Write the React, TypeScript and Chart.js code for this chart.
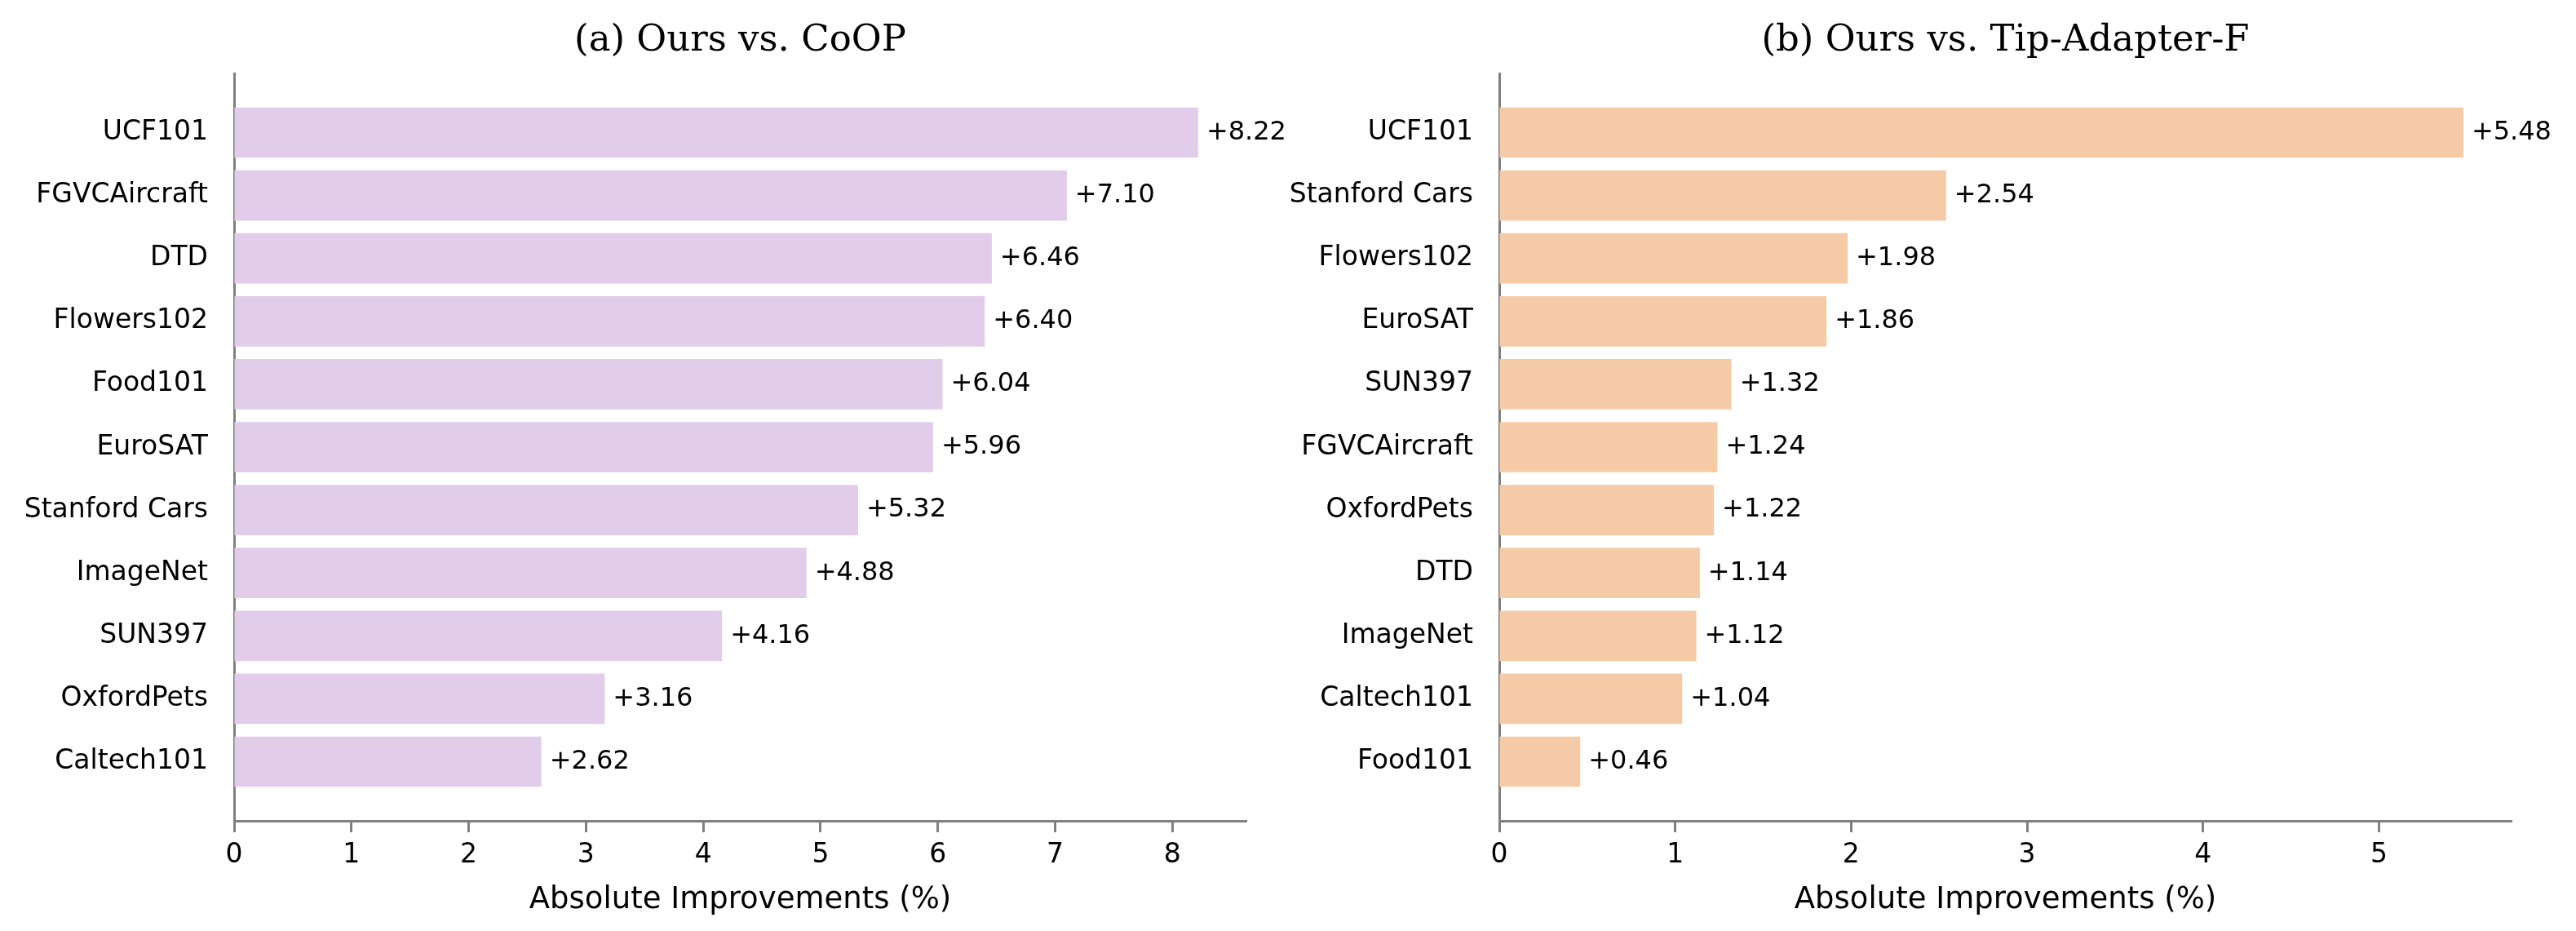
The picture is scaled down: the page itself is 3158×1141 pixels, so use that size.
import React, { useEffect, useRef } from "react";
import { Chart, registerables } from "chart.js";

Chart.register(...registerables);

const coopCategories = [
  "UCF101", "FGVCAircraft", "DTD", "Flowers102", "Food101", "EuroSAT",
  "Stanford Cars", "ImageNet", "SUN397", "OxfordPets", "Caltech101",
];
const coopValues = [8.22, 7.1, 6.46, 6.4, 6.04, 5.96, 5.32, 4.88, 4.16, 3.16, 2.62];
const coopTicks = [0, 1, 2, 3, 4, 5, 6, 7, 8];

const tipCategories = [
  "UCF101", "Stanford Cars", "Flowers102", "EuroSAT", "SUN397", "FGVCAircraft",
  "OxfordPets", "DTD", "ImageNet", "Caltech101", "Food101",
];
const tipValues = [5.48, 2.54, 1.98, 1.86, 1.32, 1.24, 1.22, 1.14, 1.12, 1.04, 0.46];
const tipTicks = [0, 1, 2, 3, 4, 5];

const GRAY = "#808080";
const SANS = "'DejaVu Sans', sans-serif";
const SERIF = "'DejaVu Serif', serif";

const valueLabelPlugin = {
  id: "valueLabels",
  afterDatasetsDraw(chart: any) {
    const ctx = chart.ctx;
    const meta = chart.getDatasetMeta(0);
    const data = chart.data.datasets[0].data as any[];
    ctx.save();
    ctx.font = `32px ${SANS}`;
    ctx.fillStyle = "#000";
    ctx.textAlign = "left";
    ctx.textBaseline = "middle";
    meta.data.forEach((bar: any, i: number) => {
      const v = data[i].x;
      ctx.fillText("+" + v.toFixed(2), bar.x + 10, bar.y);
    });
    ctx.restore();
  },
};

function BarPanel(props: {
  title: string;
  categories: string[];
  values: number[];
  ticks: number[];
  color: string;
  yWidth: number;
  padRight: number;
}) {
  const ref = useRef<HTMLCanvasElement>(null);
  useEffect(() => {
    const { title, categories, values, ticks, color, yWidth, padRight } = props;
    const n = categories.length;
    const maxV = Math.max(...values) * 1.05;
    const margin = (n - 1 + 0.8) * 0.05 + 0.4;
    const chart = new Chart(ref.current!, {
      type: "bar",
      data: {
        datasets: [
          {
            data: values.map((v, i) => ({ x: v, y: i })),
            backgroundColor: color,
            borderWidth: 0,
            categoryPercentage: 1,
            barPercentage: 0.8,
          },
        ],
      },
      options: {
        indexAxis: "y",
        animation: false,
        responsive: false,
        devicePixelRatio: 1,
        layout: { padding: { left: 0, right: padRight, top: 0, bottom: 0 } },
        plugins: {
          legend: { display: false },
          tooltip: { enabled: false },
          title: {
            display: true,
            text: title,
            fullSize: false,
            color: "#000",
            font: { family: SERIF, size: 45, weight: "normal" },
            padding: { top: 23, bottom: 13 },
          },
        },
        scales: {
          x: {
            type: "linear",
            min: 0,
            max: maxV,
            offset: false,
            afterBuildTicks: (s: any) => {
              s.ticks = ticks.map((t) => ({ value: t }));
            },
            ticks: {
              color: "#000",
              font: { family: SANS, size: 33 },
              padding: 9,
              callback: (v: any) => String(v),
            },
            grid: {
              display: true,
              drawOnChartArea: false,
              drawTicks: true,
              tickLength: 14,
              tickColor: GRAY,
              tickWidth: 3,
            },
            border: { display: true, color: GRAY, width: 3 },
            title: {
              display: true,
              text: "Absolute Improvements (%)",
              color: "#000",
              font: { family: SANS, size: 37 },
              padding: { top: 4, bottom: 15 },
            },
          },
          y: {
            type: "linear",
            reverse: true,
            offset: false,
            min: -margin,
            max: n - 1 + margin,
            afterBuildTicks: (s: any) => {
              s.ticks = categories.map((_, i) => ({ value: i }));
            },
            afterFit: (s: any) => {
              s.width = yWidth;
            },
            ticks: {
              color: "#000",
              font: { family: SANS, size: 33 },
              padding: 32,
              callback: (v: any) => categories[v] ?? "",
            },
            grid: { display: true, drawOnChartArea: false, drawTicks: false },
            border: { display: true, color: GRAY, width: 3 },
          },
        },
      },
      plugins: [valueLabelPlugin],
    } as any);
    return () => chart.destroy();
  }, []);
  return <canvas ref={ref} width={1579} height={1141} style={{ display: "block", width: 1579, height: 1141 }} />;
}

export default function App() {
  return (
    <div style={{ position: "absolute", left: 0, top: 0, width: 3158, height: 1141, display: "flex", background: "#fff" }}>
      <BarPanel
        title="(a) Ours vs. CoOP"
        categories={coopCategories}
        values={coopValues}
        ticks={coopTicks}
        color="#E1CDEA"
        yWidth={287}
        padRight={51}
      />
      <BarPanel
        title="(b) Ours vs. Tip-Adapter-F"
        categories={tipCategories}
        values={tipValues}
        ticks={tipTicks}
        color="#F5CBA7"
        yWidth={259}
        padRight={79}
      />
    </div>
  );
}
